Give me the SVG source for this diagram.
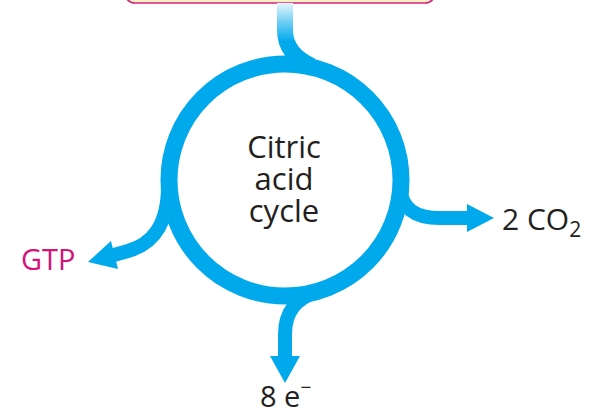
<svg xmlns="http://www.w3.org/2000/svg" width="600" height="415" viewBox="0 0 600 415">
  <defs>
    <linearGradient id="stemFade" gradientUnits="userSpaceOnUse" x1="0" y1="3" x2="0" y2="42">
      <stop offset="0" stop-color="#e6f6fd"/>
      <stop offset="0.5" stop-color="#6ccdf4"/>
      <stop offset="1" stop-color="#00a8ec"/>
    </linearGradient>
    <style>
      .flow { fill: none; stroke-linecap: butt; stroke-linejoin: round; }
      .blue { stroke: #00a8ec; }
      .head { fill: #00a8ec; }
      .lbl { font-family: "Open Sans", "Noto Sans", "DejaVu Sans", sans-serif; fill: #231f20; }
    </style>
  </defs>

  <!-- box above the cycle, mostly outside the frame -->
  <g id="input-box">
    <rect x="125" y="-40" width="310" height="43" rx="10" fill="#fbf0c4" stroke="#d6247c" stroke-width="1.6"/>
  </g>

  <g id="connectors">
    <!-- feed into the cycle from above -->
    <path class="flow" d="M285,3 V30 Q285,54 312,66" stroke="url(#stemFade)" stroke-width="16"/>
    <!-- branch to CO2 -->
    <path class="flow blue" d="M400,188 C402,208 414,218 440,218 H467" stroke-width="14"/>
    <polygon class="head" points="467,204 494,218 467,232"/>
    <!-- branch to GTP -->
    <path class="flow blue" d="M168,186 C168,226 152,244 128,251 L114,255" stroke-width="14"/>
    <polygon class="head" points="111,241 88,262 118,269"/>
    <!-- branch to electrons -->
    <path class="flow blue" d="M316,292 C296,299 285,312 285,334 V357" stroke-width="14"/>
    <polygon class="head" points="270,356 285,383 300,356"/>
  </g>

  <g id="cycle">
    <circle cx="285" cy="180" r="116" fill="none" stroke="#00a8ec" stroke-width="17"/>
    <text class="lbl" x="284" y="158" font-size="31" text-anchor="middle">Citric</text>
    <text class="lbl" x="284" y="190" font-size="31" text-anchor="middle">acid</text>
    <text class="lbl" x="284" y="222" font-size="31" text-anchor="middle">cycle</text>
  </g>

  <g id="co2">
    <text class="lbl" x="502" y="230" font-size="30">2 CO<tspan font-size="21" dy="7">2</tspan></text>
  </g>

  <g id="gtp">
    <text class="lbl" x="21" y="270" font-size="29" style="fill:#d6127b">GTP</text>
  </g>

  <g id="electrons">
    <text class="lbl" x="260" y="407" font-size="29">8 e<tspan font-size="19" dy="-13">−</tspan></text>
  </g>
</svg>
